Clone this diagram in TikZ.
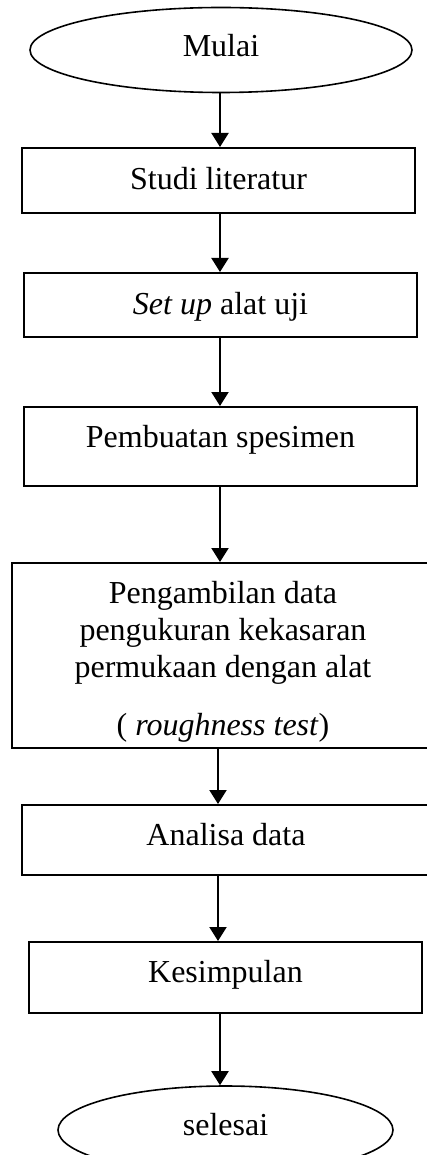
\documentclass[tikz,border=0pt]{standalone}
\usepackage{fontspec}
\setmainfont{Liberation Serif}
\usetikzlibrary{shapes.geometric,arrows.meta}
\begin{document}
\begin{tikzpicture}[x=1pt,y=-1pt,
  every node/.style={font=\fontsize{32}{37}\selectfont},
  box/.style={draw, line width=2pt, rectangle, inner sep=0pt, minimum width=393pt},
  oval/.style={draw, ellipse, line width=1.6pt, inner sep=0pt},
  arr/.style={line width=2pt, -{Triangle[width=17pt,length=14pt]}}]
\clip (0,0) rectangle (427,1155);
\coordinate (spine) at (220,0);
\coordinate (spineb) at (218,0);
\node[oval, minimum width=382pt, minimum height=85pt, text height=22pt, text depth=8pt] (mulai) at (221,50) {Mulai};
\node[box, minimum height=65pt, text height=22pt, text depth=3pt] (studi) at (218.5,180.5) {Studi literatur};
\node[box, minimum height=64pt, text height=22pt, text depth=4pt] (setup) at (220.5,305) {\textit{Set up} alat uji};
\node[box, minimum height=79pt, text height=22pt, text depth=21pt] (buat) at (220.5,446.5) {Pembuatan spesimen};
\node[box, minimum width=422pt, minimum height=185pt, align=center] (ambil) at (223,655.5)
  {\rule{0pt}{34pt}Pengambilan data\\pengukuran kekasaran\\permukaan dengan alat\\[21pt]( \textit{roughness test})};
\node[box, minimum width=408pt, minimum height=70pt, text height=22pt, text depth=12pt] (analisa) at (226,840) {Analisa data};
\node[box, minimum height=71pt, text height=22pt, text depth=13pt] (simpul) at (225.5,977.5) {Kesimpulan};
\node[oval, minimum width=335pt, minimum height=88pt, text height=22pt, text depth=12pt] (selesai) at (225.5,1130) {selesai};
\draw[arr] (mulai.south -| spine) -- (studi.north -| spine);
\draw[arr] (studi.south -| spine) -- (setup.north -| spine);
\draw[arr] (setup.south -| spine) -- (buat.north -| spine);
\draw[arr] (buat.south -| spine) -- (ambil.north -| spine);
\draw[arr] (ambil.south -| spineb) -- (analisa.north -| spineb);
\draw[arr] (analisa.south -| spineb) -- (simpul.north -| spineb);
\draw[arr] (simpul.south -| spine) -- (selesai.north -| spine);
\end{tikzpicture}
\end{document}
